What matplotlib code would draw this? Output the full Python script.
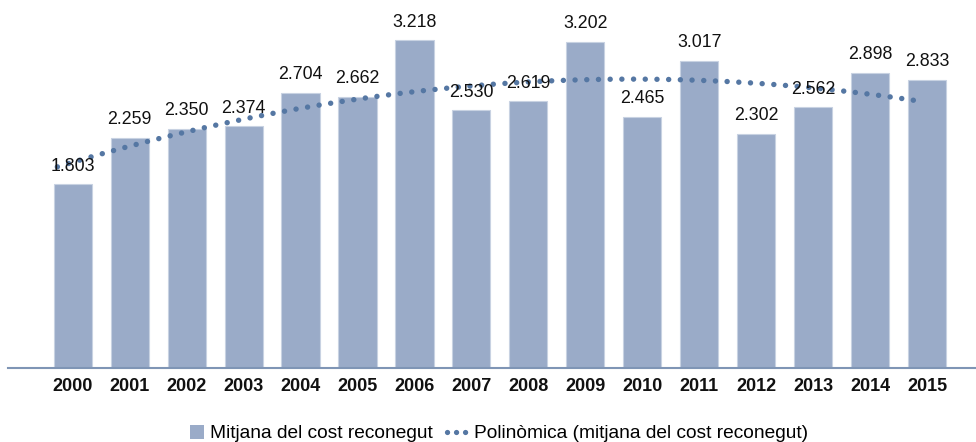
import numpy as np
import matplotlib
matplotlib.use("Agg")
import matplotlib.pyplot as plt
from matplotlib.lines import Line2D
from matplotlib.patches import Patch, Rectangle
from matplotlib.legend_handler import HandlerPatch

plt.rcParams['font.family'] = ['Liberation Sans', 'DejaVu Sans']

years = ['2000', '2001', '2002', '2003', '2004', '2005', '2006', '2007',
         '2008', '2009', '2010', '2011', '2012', '2013', '2014', '2015']
cost = [1803, 2259, 2350, 2374, 2704, 2662, 3218, 2530,
        2619, 3202, 2465, 3017, 2302, 2562, 2898, 2833]
labels = ['1.803', '2.259', '2.350', '2.374', '2.704', '2.662', '3.218', '2.530',
          '2.619', '3.202', '2.465', '3.017', '2.302', '2.562', '2.898', '2.833']

bar_color = '#9aabc8'
trend_color = '#5577a3'
axis_color = '#7f95b5'

fig = plt.figure(figsize=(9.76, 4.42), dpi=100)
ax = fig.add_axes([0.008, 0.1674, 0.992, 0.8326])

x = np.arange(len(years))
ax.bar(x, cost, width=0.67, color=bar_color, edgecolor='#c8d2e2', linewidth=0.8, zorder=2)

for xi, v, lab in zip(x, cost, labels):
    ax.text(xi, v + 95, lab, ha='center', va='bottom', fontsize=12.8, color='#111111', zorder=4)

# polynomial (quadratic) trendline of the yearly averages
coef = np.polyfit(x, cost, 2)
xs = np.linspace(x[0] - 0.27, x[-1] - 0.17, 400)
ax.plot(xs, np.polyval(coef, xs), color=trend_color, lw=3.9,
        linestyle=(0, (0.01, 2.15)), dash_capstyle='round', zorder=3)

ax.set_xlim(-1.14, 15.86)
ax.set_ylim(0, 3615)
ax.set_xticks(x)
ax.set_xticklabels(years, fontsize=13, fontweight='bold', color='#111111')
ax.tick_params(axis='x', length=0, pad=7)
ax.set_yticks([])
for s in ['top', 'right', 'left']:
    ax.spines[s].set_visible(False)
ax.spines['bottom'].set_color(axis_color)
ax.spines['bottom'].set_linewidth(1.5)


def small_square(legend, orig_handle, xdescent, ydescent, width, height, fontsize):
    side = height * 1.05
    return Rectangle((width - xdescent - side, -ydescent + (height - side) / 2),
                     side, side)


handles = [Patch(facecolor=bar_color, edgecolor='none'),
           Line2D([0], [0], color=trend_color, lw=3.8, linestyle=(0, (0.01, 1.7)),
                  dash_capstyle='round')]
fig.legend(handles, ['Mitjana del cost reconegut', 'Polinòmica (mitjana del cost reconegut)'],
           loc='lower center', bbox_to_anchor=(0.508, -0.04), ncol=2, frameon=False,
           fontsize=13.8, handlelength=1.1, handleheight=0.7, handletextpad=0.3,
           columnspacing=0.75,
           handler_map={Patch: HandlerPatch(patch_func=small_square)})

fig.savefig('out.png', dpi=100)
